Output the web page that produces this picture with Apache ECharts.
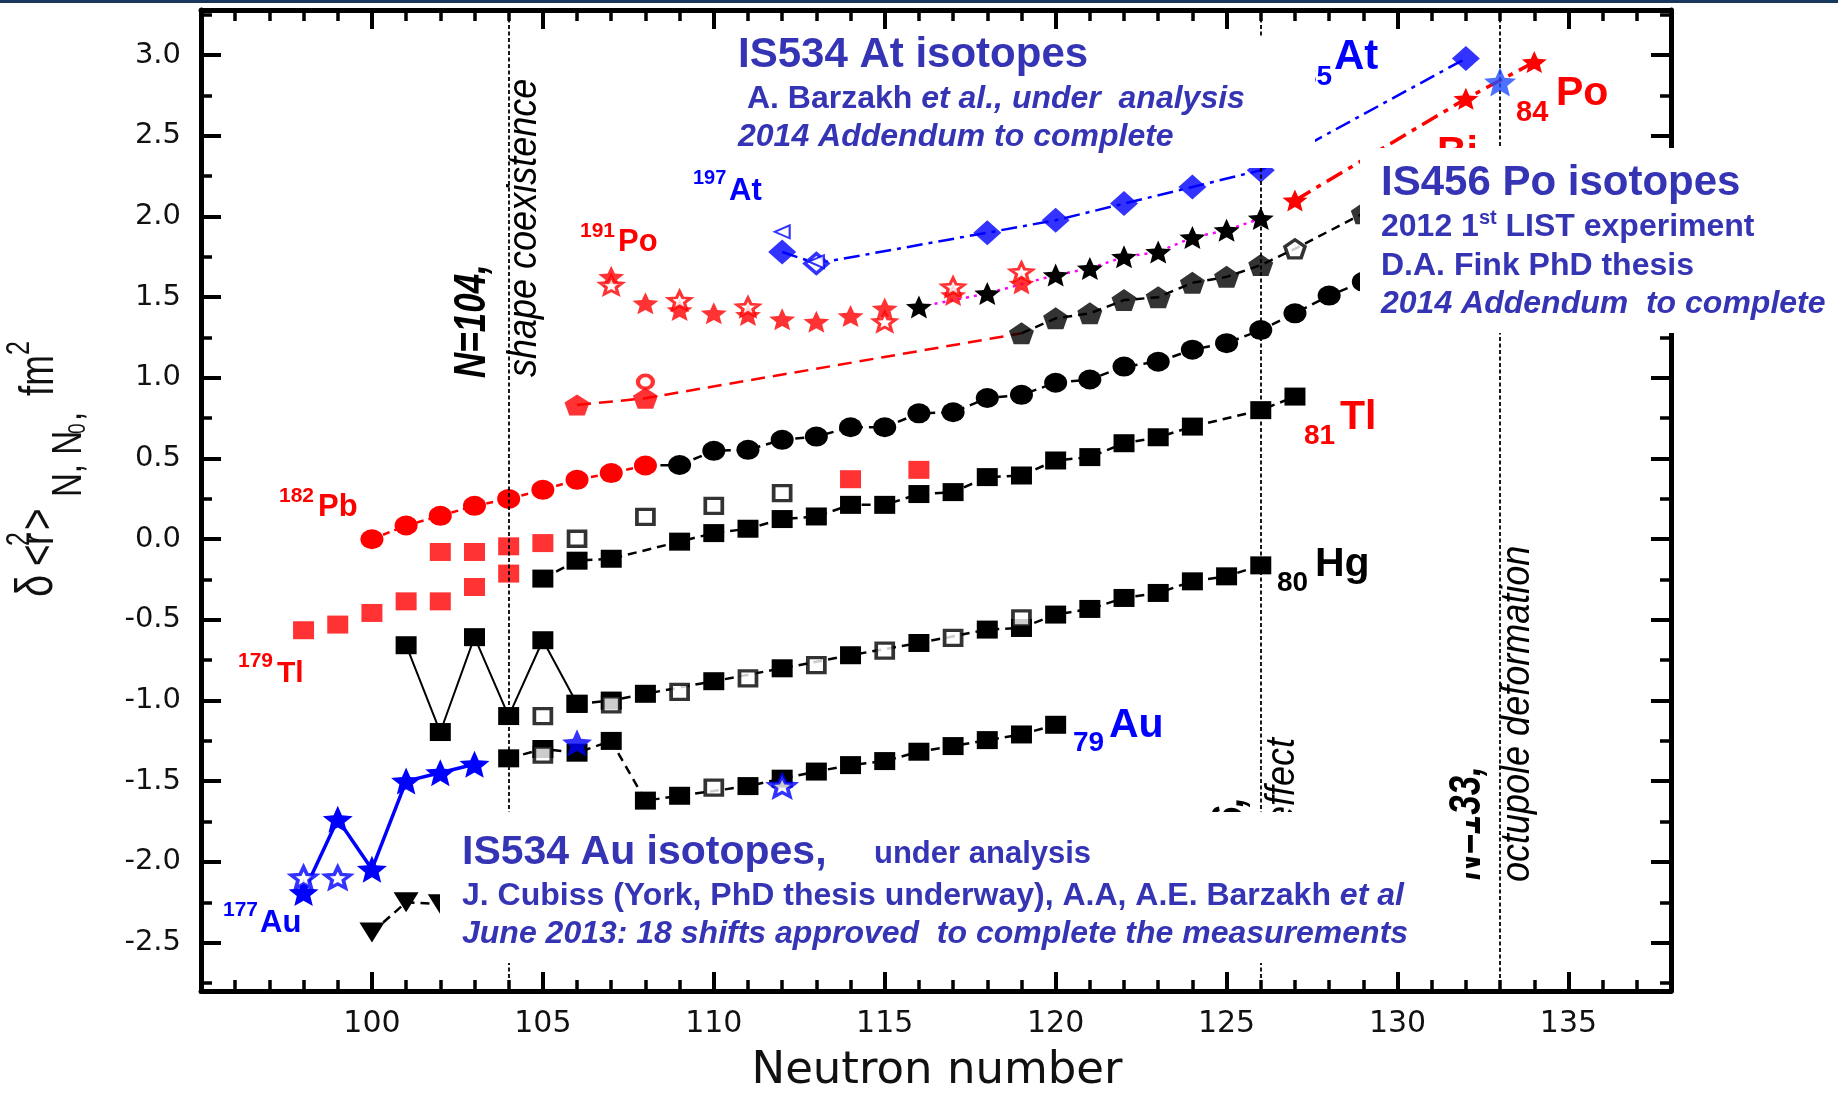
<!DOCTYPE html>
<html>
<head>
<meta charset="utf-8">
<script src="https://cdn.jsdelivr.net/npm/echarts@6/dist/echarts.min.js"></script>
<style>
  html, body { margin: 0; padding: 0; background: #ffffff; }
  #chart { width: 1838px; height: 1094px; }
</style>
</head>
<body>
<div id="chart"></div>
<script>
// ---- axis settings -------------------------------------------------------
const xRange = [95, 138];
const yRange = [-2.8, 3.28];
const shellLines = [104, 126, 133];          // N = 104, 126, 133 guide lines

// ---- charge-radius changes  [N, delta<r^2> (fm^2)] -------------------------
// Pb (Z = 82)
const pbLight = [[100,0.0],[101,0.085],[102,0.145],[103,0.207],[104,0.25],[105,0.306],[106,0.368],[107,0.41],[108,0.457]];
const pbDark  = [[109,0.46],[110,0.548],[111,0.554],[112,0.616],[113,0.636],[114,0.694],[115,0.694],[116,0.78],[117,0.787],[118,0.875],[119,0.895],[120,0.97],[121,0.99],[122,1.07],[123,1.10],[124,1.175],[125,1.215],[126,1.296],[127,1.40],[128,1.51],[129,1.595]];
// Tl (Z = 81)
const tlLight    = [[98,-0.564],[99,-0.529],[100,-0.457],[101,-0.385],[102,-0.385],[103,-0.296],[104,-0.213]];
const tlLightIso = [[102,-0.079],[103,-0.079],[104,-0.044],[105,-0.024],[114,0.372],[116,0.43]];
const tlDark     = [[105,-0.244],[106,-0.133],[107,-0.121],[109,-0.015],[110,0.038],[111,0.065],[112,0.125],[113,0.141],[114,0.213],[115,0.213],[116,0.28],[117,0.292],[118,0.385],[119,0.395],[120,0.488],[121,0.509],[122,0.595],[123,0.632],[124,0.698],[126,0.80],[127,0.884]];
const tlOpen     = [[106,0.003],[108,0.139],[110,0.207],[112,0.286]];
// Hg (Z = 80)
const hgZigzag = [[101,-0.657],[102,-1.195],[103,-0.607],[104,-1.096],[105,-0.626],[106,-1.02]];
const hgDark   = [[106,-1.02],[107,-1.0],[108,-0.958],[110,-0.88],[112,-0.80],[114,-0.719],[116,-0.643],[118,-0.56],[119,-0.55],[120,-0.467],[121,-0.432],[122,-0.364],[123,-0.333],[124,-0.261],[125,-0.23],[126,-0.162]];
const hgOpen   = [[105,-1.096],[107,-1.024],[109,-0.946],[111,-0.863],[113,-0.78],[115,-0.69],[117,-0.612],[119,-0.49]];
// Au (Z = 79)
const auDark       = [[104,-1.358],[105,-1.30],[106,-1.323],[107,-1.25],[108,-1.62],[109,-1.59],[111,-1.53],[112,-1.484],[113,-1.44],[114,-1.40],[115,-1.375],[116,-1.317],[117,-1.282],[118,-1.245],[119,-1.21],[120,-1.15]];
const auOpen       = [[105,-1.335],[110,-1.54]];
const auStar       = [[98,-2.19],[99,-1.736],[100,-2.045],[101,-1.499],[102,-1.447],[103,-1.395]];
const auStarSingle = [[106,-1.262]];
const auStarOpen   = [[98,-2.097],[99,-2.097],[112,-1.53]];
// Pt (Z = 78)
const ptTri = [[100,-2.437],[101,-2.25],[102,-2.262]];
// Bi (Z = 83)
const biLight     = [[106,0.832],[108,0.874]];
const biLightOpen = [[108,0.975]];
const biDark      = [[119,1.276],[120,1.369],[121,1.40],[122,1.482],[123,1.50],[124,1.589],[125,1.626],[126,1.699],[129,2.02]];
const biDarkOpen  = [[127,1.80]];
// Po (Z = 84)
const poLight     = [[107,1.626],[108,1.462],[109,1.42],[110,1.40],[111,1.39],[112,1.363],[113,1.348],[114,1.383],[115,1.43],[117,1.513],[119,1.585]];
const poLightOpen = [[107,1.575],[109,1.48],[111,1.44],[115,1.348],[117,1.564],[119,1.657]];
const poDark      = [[116,1.44],[118,1.523],[120,1.637],[121,1.678],[122,1.75],[123,1.78],[124,1.87],[125,1.915],[126,1.988]];
const poHeavy     = [[127,2.10],[132,2.73],[134,2.957]];
const po133       = [[133,2.833]];
// At (Z = 85)
const atFilled = [[112,1.78],[118,1.90],[120,1.977],[122,2.08],[124,2.183],[126,2.287],[132,2.98]];
const atOpen   = [[113,1.709]];
const atTri    = [[112,1.905],[113,1.72]];

// ---- styling --------------------------------------------------------------
const FONT = "'Liberation Sans', Arial, sans-serif";
const AXISFONT = "'DejaVu Sans', sans-serif";
const RED = '#ff0000', BLUE = '#0000ff', INK = '#3434b4', BLACK = '#000000';
const STAR = 'path://M50,0 L63.2,31.8 L97.55,34.55 L71.4,57 L79.39,90.45 L50,72.5 L20.61,90.45 L28.6,57 L2.45,34.55 L36.8,31.8 Z';
const PENTA = 'path://M50,0 L97.55,34.55 L79.39,90.45 L20.61,90.45 L2.45,34.55 Z';
const DASH = [9, 6];

const byN = (a, b) => a[0] - b[0];

function marks(data, o) {
  const s = {
    type: o.line ? 'line' : 'scatter',
    data: data,
    symbol: o.symbol || 'none',
    symbolSize: o.size || 10,
    symbolRotate: o.rotate || 0,
    itemStyle: o.open
      ? { color: '#ffffff', borderColor: o.color, borderWidth: o.bw || 3 }
      : { color: o.color, borderWidth: 0 },
    z: o.z || 3,
    silent: true,
    animation: false
  };
  if (o.line) {
    s.lineStyle = { color: o.lineColor || o.color, width: o.lw || 2.5, type: o.line };
    s.showSymbol = !!o.symbol && o.symbol !== 'none';
    s.emphasis = { disabled: true };
  }
  return s;
}
function link(data, color, type, lw) {
  return marks(data, { line: type, color: color, lw: lw, z: 2 });
}

const SQ = [21, 18], SQO = [17, 15], CI = [23, 20];
const series = [
  // Pb
  marks(pbLight, { line: [7, 5], symbol: 'circle', size: CI, color: RED }),
  link([pbLight[pbLight.length - 1], pbDark[0]], BLACK, DASH, 2.5),
  marks(pbDark, { line: DASH, symbol: 'circle', size: CI, color: BLACK }),
  // Tl
  marks(tlLight, { symbol: 'rect', size: SQ, color: RED }),
  marks(tlLightIso, { symbol: 'rect', size: SQ, color: RED }),
  marks(tlDark, { line: DASH, symbol: 'rect', size: SQ, color: BLACK }),
  marks(tlOpen, { symbol: 'rect', size: SQO, color: BLACK, open: true, bw: 3.5 }),
  // Hg
  marks(hgZigzag, { line: 'solid', symbol: 'rect', size: SQ, color: BLACK, lw: 2 }),
  marks(hgDark, { line: DASH, symbol: 'rect', size: SQ, color: BLACK }),
  marks(hgOpen, { symbol: 'rect', size: SQO, color: BLACK, open: true, bw: 3.5 }),
  // Au
  marks(auDark, { line: DASH, symbol: 'rect', size: SQ, color: BLACK }),
  marks(auOpen, { symbol: 'rect', size: SQO, color: BLACK, open: true, bw: 3.5 }),
  marks(auStar, { line: 'solid', symbol: STAR, size: [30, 27], color: BLUE, lw: 3.5 }),
  marks(auStarSingle, { symbol: STAR, size: [30, 27], color: BLUE }),
  marks(auStarOpen, { symbol: STAR, size: [25, 21], color: BLUE, open: true, bw: 3.5 }),
  // Pt
  marks(ptTri, { line: DASH, symbol: 'triangle', rotate: 180, size: [25, 20], color: BLACK }),
  // Bi
  link(biLight.concat([biDark[0]]), RED, [14, 8], 2.5),
  marks(biLight, { symbol: PENTA, size: [25, 21], color: RED }),
  marks(biLightOpen, { symbol: 'circle', size: [15, 13], color: RED, open: true, bw: 4 }),
  link(biDark.concat(biDarkOpen).sort(byN), BLACK, DASH, 2.5),
  marks(biDark, { symbol: PENTA, size: [25, 22], color: BLACK }),
  marks(biDarkOpen, { symbol: PENTA, size: [20, 18], color: BLACK, open: true, bw: 3.5 }),
  // Po
  marks(poDark, { line: [3, 5], lineColor: '#ff00ff', lw: 2.5, symbol: STAR, size: [26, 23], color: BLACK }),
  marks(poLight, { symbol: STAR, size: [26, 22], color: RED }),
  marks(poLightOpen, { symbol: STAR, size: [22, 18], color: RED, open: true, bw: 3 }),
  marks(poHeavy, { line: [18, 7, 5, 7], lw: 3.5, symbol: STAR, size: [25, 22], color: RED }),
  // At
  link(atFilled.concat(atOpen).sort(byN), BLUE, [16, 6, 4, 6], 2.5),
  marks(atFilled, { symbol: 'diamond', size: [28, 25], color: BLUE }),
  marks(atOpen, { symbol: 'diamond', size: [23, 20], color: BLUE, open: true, bw: 3.5 }),
  marks(atTri, { symbol: 'triangle', rotate: 90, size: [13, 15], color: BLUE, open: true, bw: 2 }),
  marks(po133, { symbol: STAR, size: [32, 29], color: '#1f4dff', z: 5 }),
  // vertical guides
  {
    type: 'line', data: [], z: 6, silent: true, animation: false,
    markLine: {
      silent: true, animation: false, symbol: ['none', 'none'], label: { show: false },
      lineStyle: { color: BLACK, width: 1.8, type: [4, 2.5] },
      data: shellLines.map(v => ({ xAxis: v }))
    }
  }
];

// ---- axes -----------------------------------------------------------------
function frameAxis(extra) {
  return Object.assign({
    type: 'value',
    axisLine: { show: true, onZero: false, lineStyle: { color: BLACK, width: 5 } },
    axisTick: { show: true, inside: true, length: 19, lineStyle: { color: BLACK, width: 4 } },
    minorTick: { show: true, length: 11, lineStyle: { color: BLACK, width: 3.5 } },
    splitLine: { show: false },
    minorSplitLine: { show: false }
  }, extra);
}
const xLabel = {
  show: true, color: '#111', fontFamily: AXISFONT, fontSize: 30, margin: 18,
  showMinLabel: false, showMaxLabel: false, formatter: v => String(v)
};
const yLabel = {
  show: true, color: '#111', fontFamily: AXISFONT, fontSize: 29, margin: 20,
  showMinLabel: false, showMaxLabel: false, formatter: v => v.toFixed(1)
};
const xAxes = [
  frameAxis({ position: 'bottom', min: xRange[0], max: xRange[1], interval: 5, axisLabel: xLabel }),
  frameAxis({ position: 'top', min: xRange[0], max: xRange[1], interval: 5, axisLabel: { show: false } })
];
xAxes.forEach(a => { a.minorTick.splitNumber = 5; });
const yAxes = [
  frameAxis({ position: 'left', min: yRange[0], max: yRange[1], splitNumber: 12, axisLabel: yLabel }),
  frameAxis({ position: 'right', min: yRange[0], max: yRange[1], splitNumber: 12, axisLabel: { show: false } })
];
yAxes.forEach(a => { a.minorTick.splitNumber = 2; a.axisTick.length = 20; });

// ---- text helpers -----------------------------------------------------------
const mctx = document.createElement('canvas').getContext('2d');
function fontStr(p) {
  return (p.italic ? 'italic ' : 'normal ') + (p.weight || 'bold') + ' ' + p.size + 'px ' + (p.family || FONT);
}
function styleFor(text, p) {
  const al = p.align || 'left';
  return {
    text: text, fill: p.color || BLACK, font: fontStr(p),
    textAlign: al, textVerticalAlign: 'middle', align: al, verticalAlign: 'middle'
  };
}
// horizontal text placed by its left edge (or centre) and its baseline
function tx(text, x, base, p) {
  return { type: 'text', x: x, y: base - 0.346 * p.size, z: p.z || 30, silent: true, style: styleFor(text, p) };
}
// consecutive runs on one baseline
function run(parts, x, base, common) {
  const out = [];
  let cx = x;
  parts.forEach(pt => {
    const p = Object.assign({}, common, pt);
    out.push(tx(p.t, cx, base + (p.dy || 0), p));
    mctx.font = fontStr(p);
    cx += mctx.measureText(p.t).width;
  });
  return out;
}
// text reading bottom-to-top, placed by its baseline x and starting y
function rtx(text, baseX, startY, p) {
  const k = p.stretch || 1;
  return {
    type: 'text', x: baseX - 0.346 * p.size * k, y: startY, rotation: Math.PI / 2,
    scaleX: 1, scaleY: k,
    z: p.z || 10, silent: true, style: styleFor(text, p)
  };
}

const G = [];
// slide header strip
G.push({ type: 'rect', shape: { x: 0, y: 0, width: 1838, height: 3 }, style: { fill: '#17375e' }, z: 40, silent: true });

// axis titles
const yt = { size: 37, weight: 'normal', color: '#111', z: 10, stretch: 1.3 };
const ys = (s) => Object.assign({}, yt, { size: s });
G.push(
  rtx('\u03b4', 56, 597, ys(40)),
  rtx('<', 56, 566, yt),
  rtx('r', 56, 545, yt),
  rtx('2', 31, 546, ys(25)),
  rtx('>', 56, 530, yt),
  rtx('N, N', 84, 497, ys(33)),
  rtx('0', 87, 434, ys(19)),
  rtx(',', 84, 421, ys(33)),
  rtx('fm', 56, 396, yt),
  rtx('2', 31, 355, ys(25))
);
G.push(tx('Neutron number', 937, 1087, { size: 45, weight: 'normal', family: AXISFONT, color: '#111', align: 'center', z: 10 }));

// isotope / element labels
const lab = (t, x, b, s, c) => tx(t, x, b, { size: s, color: c, z: 10 });
G.push(
  lab('197', 693, 185, 20, BLUE), lab('At', 729, 202, 31, BLUE),
  lab('191', 580, 238, 21, RED),  lab('Po', 618, 253, 31, RED),
  lab('182', 279, 503, 21, RED),  lab('Pb', 318, 518, 31, RED),
  lab('179', 238, 668, 21, RED),  lab('Tl', 277, 684, 30, RED),
  lab('177', 223, 917, 21, BLUE), lab('Au', 260, 934, 31, BLUE),
  lab('81', 1304, 446, 28, RED),  lab('Tl', 1340, 432, 41, RED),
  lab('80', 1277, 593, 28, BLACK), lab('Hg', 1315, 579, 41, BLACK),
  lab('79', 1073, 753, 28, BLUE), lab('Au', 1109, 740, 41, BLUE),
  lab('85', 1301, 87, 28, BLUE),  lab('At', 1334, 72, 42, BLUE),
  lab('84', 1516, 123, 29, RED),  lab('Po', 1556, 108, 41, RED),
  lab('83', 1400, 183, 28, RED),  lab('Bi', 1437, 168, 41, RED)
);

// guide-line captions
const capB = { size: 35, italic: true, weight: 'bold', color: BLACK, stretch: 1.25 };
const capI = { size: 36, italic: true, weight: 'normal', color: BLACK, stretch: 1.15 };
G.push(
  rtx('N=104,', 488, 378, capB), rtx('shape coexistence', 539, 377, capI),
  rtx('N=126,', 1246, 911, capB), rtx('shell effect', 1297, 910, capI),
  rtx('N=133,', 1483, 880, capB), rtx('octupole deformation', 1532, 882, capI)
);

// note panels
[[720, 36, 595, 132], [1360, 148, 478, 185], [440, 812, 1026, 151]].forEach(b => {
  G.push({ type: 'rect', shape: { x: b[0], y: b[1], width: b[2], height: b[3] }, style: { fill: '#ffffff' }, z: 20, silent: true });
});

const note = { size: 32, color: INK, z: 30 };
G.push(tx('IS534 At isotopes', 738, 70, { size: 42, color: INK, z: 30 }));
G.push.apply(G, run([{ t: ' A. Barzakh ' }, { t: 'et al., under  analysis', italic: true }], 738, 110, note));
G.push(tx('2014 Addendum to complete', 738, 148, Object.assign({}, note, { italic: true })));

G.push(tx('IS456 Po isotopes', 1381, 198, { size: 42, color: INK, z: 30 }));
G.push.apply(G, run([{ t: '2012 1' }, { t: 'st', size: 20, dy: -13 }, { t: ' LIST experiment' }], 1381, 238, note));
G.push(tx('D.A. Fink PhD thesis', 1381, 277, note));
G.push(tx('2014 Addendum  to complete', 1381, 315, Object.assign({}, note, { italic: true })));

G.push(tx('IS534 Au isotopes,', 462, 867, { size: 41, color: INK, z: 30 }));
G.push(tx('under analysis', 874, 865, { size: 31, color: INK, z: 30 }));
G.push.apply(G, run([{ t: 'J. Cubiss (York, PhD thesis underway), A.A, A.E. Barzakh ' }, { t: 'et al', italic: true }], 462, 907, note));
G.push(tx('June 2013: 18 shifts approved  to complete the measurements', 462, 945, Object.assign({}, note, { italic: true })));

// ---- chart ------------------------------------------------------------------
const chart = echarts.init(document.getElementById('chart'), null, { renderer: 'canvas' });
chart.setOption({
  backgroundColor: '#ffffff',
  animation: false,
  textStyle: { fontFamily: FONT },
  grid: { left: 201, right: 167, top: 10, bottom: 103, containLabel: false, outerBoundsMode: 'none' },
  xAxis: xAxes,
  yAxis: yAxes,
  series: series,
  graphic: { elements: G }
});
</script>
</body>
</html>
